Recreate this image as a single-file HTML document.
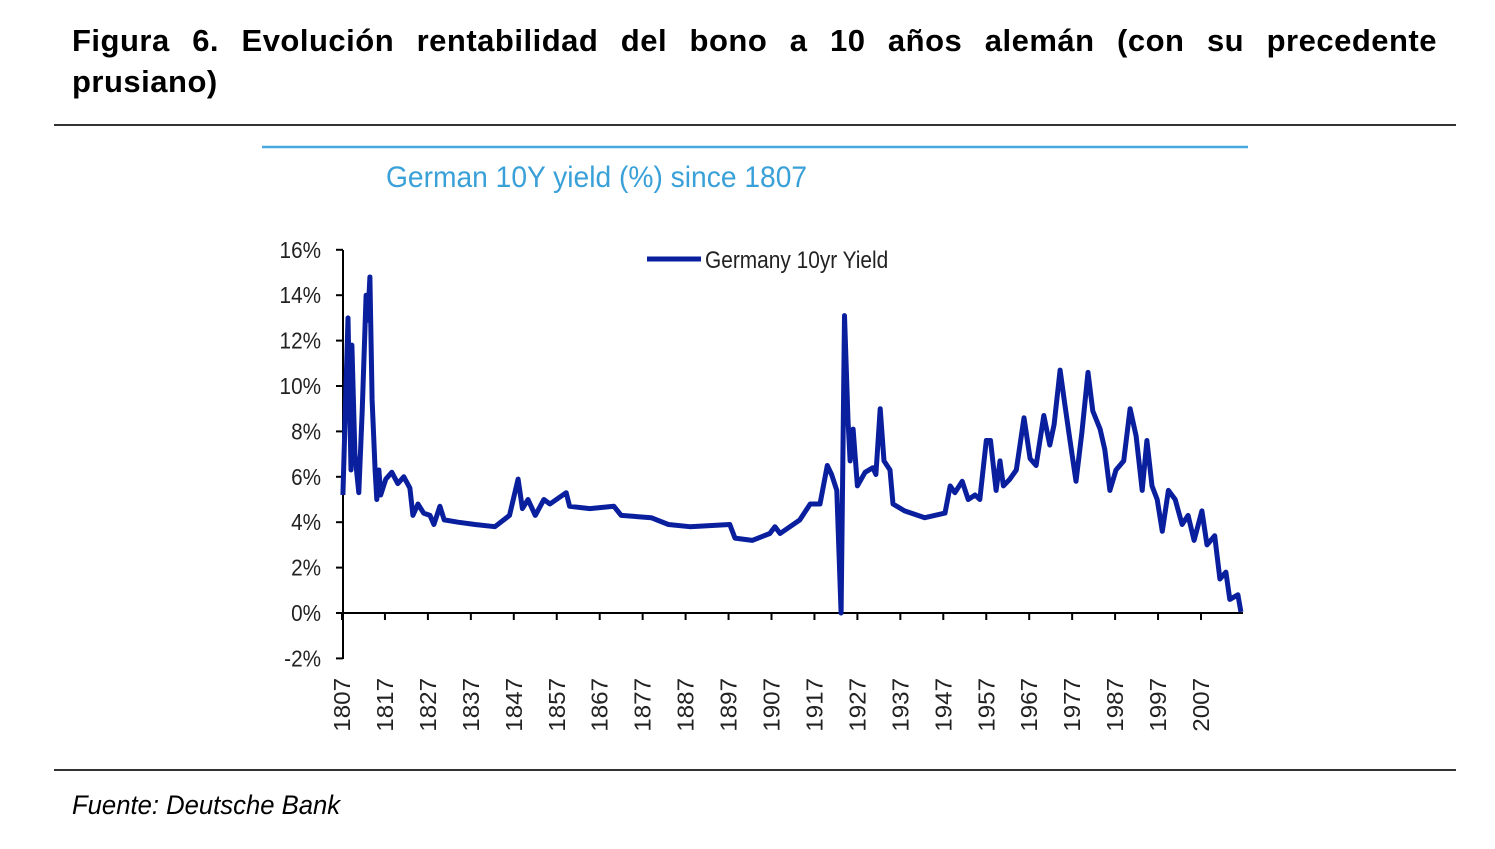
<!DOCTYPE html>
<html><head><meta charset="utf-8"><style>
body{margin:0;background:#fff;width:1495px;height:849px;overflow:hidden;position:relative;font-family:"Liberation Sans",sans-serif}
#title{position:absolute;left:72px;top:20px;width:1365px;font-weight:bold;font-size:31px;line-height:41px;text-align:justify;text-align-last:left;color:#000;letter-spacing:0.5px;word-spacing:6px}
.rule{position:absolute;left:54px;width:1402px;height:2px;background:#333}
#src{position:absolute;left:72px;top:790px;font-style:italic;font-size:27px;color:#000;transform:scaleX(0.95);transform-origin:left}
</style></head><body>
<div id="title">Figura 6. Evolución rentabilidad del bono a 10 años alemán (con su precedente prusiano)</div>
<div class="rule" style="top:124px"></div>
<div class="rule" style="top:769px"></div>
<div id="src">Fuente: Deutsche Bank</div>
<svg id="chart" width="1495" height="849" style="position:absolute;left:0;top:0"></svg>
<script>
const years=[1807.2,1808.4,1809.1,1809.3,1810,1810.9,1811.7,1812.6,1813,1813.5,1814,1814.7,1815.1,1815.6,1816,1817.2,1818.6,1820,1821.4,1822.8,1823.5,1824.7,1826,1827.5,1828.4,1829.8,1830.8,1834,1838,1842.6,1846,1848,1849,1850.3,1852,1854,1855.4,1859.2,1860,1864.7,1870.3,1872,1879,1883,1888,1897.3,1898.5,1902.5,1906.6,1907.8,1909,1913.6,1916,1918.3,1920,1921,1922.2,1923.2,1924,1924.8,1925.3,1926,1927,1928.8,1930.6,1931.3,1932.3,1933.2,1934.6,1935.3,1938,1942.7,1947.4,1948.6,1949.7,1951.4,1952.8,1954.4,1955.5,1957,1958,1959.3,1960.2,1961,1962.5,1964,1965.8,1967.2,1968.6,1970.4,1971.8,1972.8,1974.2,1975.3,1976.5,1977.9,1979.3,1980.7,1981.8,1983.5,1984.6,1985.8,1987.2,1989,1990.5,1991.9,1993.3,1994.4,1995.6,1996.8,1998,1999.4,2001,2002.6,2004,2005.4,2007.2,2008.4,2010.2,2011.4,2012.8,2013.7,2015.6,2016.3];
const yields=[5.2,13.0,6.3,11.8,7.0,5.3,8.9,14.0,12.9,14.8,9.4,6.3,5.0,6.3,5.2,5.9,6.2,5.7,6.0,5.5,4.3,4.8,4.4,4.3,3.9,4.7,4.1,4.0,3.9,3.8,4.3,5.9,4.6,5.0,4.3,5.0,4.8,5.3,4.7,4.6,4.7,4.3,4.2,3.9,3.8,3.9,3.3,3.2,3.5,3.8,3.5,4.1,4.8,4.8,6.5,6.1,5.4,0,13.1,8.5,6.7,8.1,5.6,6.2,6.4,6.1,9.0,6.7,6.3,4.8,4.5,4.2,4.4,5.6,5.3,5.8,5.0,5.2,5.0,7.6,7.6,5.4,6.7,5.6,5.9,6.3,8.6,6.8,6.5,8.7,7.4,8.3,10.7,9.2,7.6,5.8,8.0,10.6,8.9,8.1,7.2,5.4,6.3,6.7,9.0,7.8,5.4,7.6,5.6,5.0,3.6,5.4,5.0,3.9,4.3,3.2,4.5,3.0,3.4,1.5,1.8,0.6,0.8,0.05];
const yTicks=[16,14,12,10,8,6,4,2,0,-2];
const xTicks=[1807,1817,1827,1837,1847,1857,1867,1877,1887,1897,1907,1917,1927,1937,1947,1957,1967,1977,1987,1997,2007];
const NS='http://www.w3.org/2000/svg';
const svg=document.getElementById('chart');
const X=y=>342+(y-1807)*4.295;
const Y=v=>613-v*22.7;
function mk(t,a,p){const e=document.createElementNS(NS,t);for(const k in a)e.setAttribute(k,a[k]);(p||svg).appendChild(e);return e;}
let e;
e=mk('line',{x1:262,y1:147,x2:1248,y2:147,stroke:'#4aa8e0','stroke-width':2.5});


e=mk('text',{x:386,y:187,fill:'#3aa0d8','font-size':30,'font-family':'Liberation Sans, sans-serif',transform:'translate(386,0) scale(0.94,1) translate(-386,0)'});
e.textContent='German 10Y yield (%) since 1807';


e=mk('line',{x1:343,y1:250,x2:343,y2:659,stroke:'#000','stroke-width':2});


e=mk('line',{x1:342,y1:Y(0),x2:1243,y2:Y(0),stroke:'#000','stroke-width':2});


yTicks.forEach(v=>{
 e=mk('line',{x1:336,y1:Y(v),x2:343,y2:Y(v),stroke:'#000','stroke-width':2});
 
 
 e=mk('text',{x:321,y:Y(v)+8,'text-anchor':'end','font-size':23,fill:'#222',transform:`translate(321,0) scale(0.9,1) translate(-321,0)`});
 e.textContent=v+'%';
 
 
});
xTicks.forEach(t=>{
 e=mk('line',{x1:X(t),y1:Y(0),x2:X(t),y2:Y(0)+7,stroke:'#000','stroke-width':2});
 
 
 e=mk('text',{x:0,y:0,'text-anchor':'end','font-size':23,fill:'#222',transform:`translate(${X(t)+8},678) rotate(-90) scale(1.05,1)`});
 e.textContent=t;
 
 
});
e=mk('polyline',{points:years.map((y,i)=>X(y).toFixed(1)+','+Y(yields[i]).toFixed(1)).join(' '),fill:'none',stroke:'#0a1f9e','stroke-width':5,'stroke-linejoin':'round'});


e=mk('line',{x1:647,y1:259,x2:701,y2:259,stroke:'#0a1f9e','stroke-width':5});


e=mk('text',{x:705,y:268,'font-size':24,fill:'#222',transform:'translate(705,0) scale(0.87,1) translate(-705,0)'});
e.textContent='Germany 10yr Yield';


</script>
</body></html>
